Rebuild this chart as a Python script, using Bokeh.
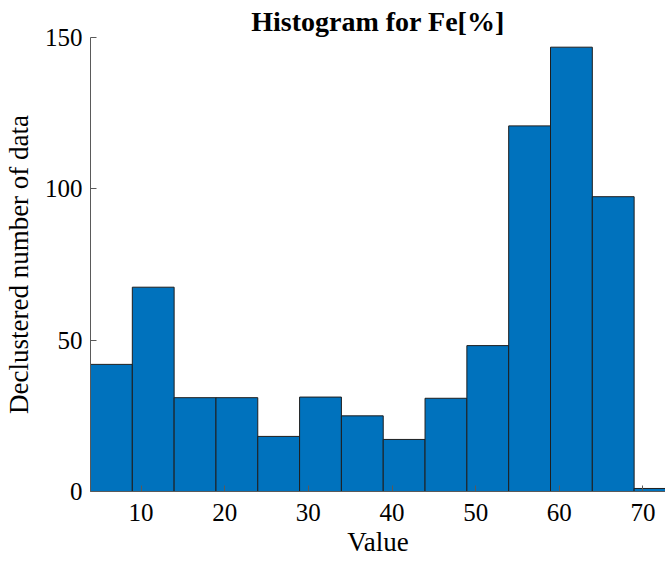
from bokeh.plotting import figure
from bokeh.models import Range1d, FixedTicker, ColumnDataSource
from bokeh.embed import file_html
from bokeh.resources import INLINE

# Data
bin_edges = [3.95, 8.95, 13.95, 18.95, 23.95, 28.95, 33.95, 38.95,
             43.95, 48.95, 53.95, 58.95, 63.95, 68.95, 73.95]
counts = [42, 67.5, 31, 31, 18.2, 31.2, 25, 17.2, 30.8, 48.2, 120.8, 146.8, 97.4, 1]
x_ticks = [10, 20, 30, 40, 50, 60, 70]
y_ticks = [0, 50, 100, 150]

src = ColumnDataSource(dict(
    left=bin_edges[:-1],
    right=bin_edges[1:],
    top=counts,
    bottom=[0] * len(counts),
))

FONT = "Liberation Serif"

p = figure(width=665, height=561, output_backend="svg", toolbar_location=None,
           x_range=Range1d(3.95, 72.7), y_range=Range1d(0, 150),
           min_border_left=89, min_border_right=0, min_border_top=37,
           min_border_bottom=70)
p.quad(left="left", right="right", top="top", bottom="bottom", source=src,
       fill_color="#0072BD", line_color="#1e1e1e", line_width=1)

p.title.text = "Histogram for Fe[%]"
p.title.text_font = FONT
p.title.text_font_size = "28px"
p.title.text_font_style = "bold"
p.title.align = "center"
p.title.offset = 5
p.title.standoff = 2
p.title.text_color = "black"

p.outline_line_color = None
p.grid.visible = False
p.background_fill_color = "white"
p.border_fill_color = "white"

for ax in (p.xaxis[0], p.yaxis[0]):
    ax.major_tick_in = 6
    ax.major_tick_out = 0
    ax.minor_tick_in = 0
    ax.minor_tick_out = 0
    ax.axis_line_color = "#5a5a5a"
    ax.major_tick_line_color = "#5a5a5a"
    ax.major_label_text_font = FONT
    ax.major_label_text_font_size = "25px"
    ax.major_label_text_color = "black"
    ax.axis_label_text_font = FONT
    ax.axis_label_text_font_size = "27px"
    ax.axis_label_text_font_style = "normal"
    ax.axis_label_text_color = "black"

p.xaxis.ticker = FixedTicker(ticks=x_ticks)
p.yaxis.ticker = FixedTicker(ticks=y_ticks)
p.xaxis.axis_label = "Value"
p.yaxis.axis_label = "Declustered number of data"
p.xaxis.major_label_standoff = 12
p.yaxis.major_label_standoff = 8
p.xaxis.axis_label_standoff = 3
p.yaxis.axis_label_standoff = 8

open("out.html", "w").write(file_html(p, INLINE))
